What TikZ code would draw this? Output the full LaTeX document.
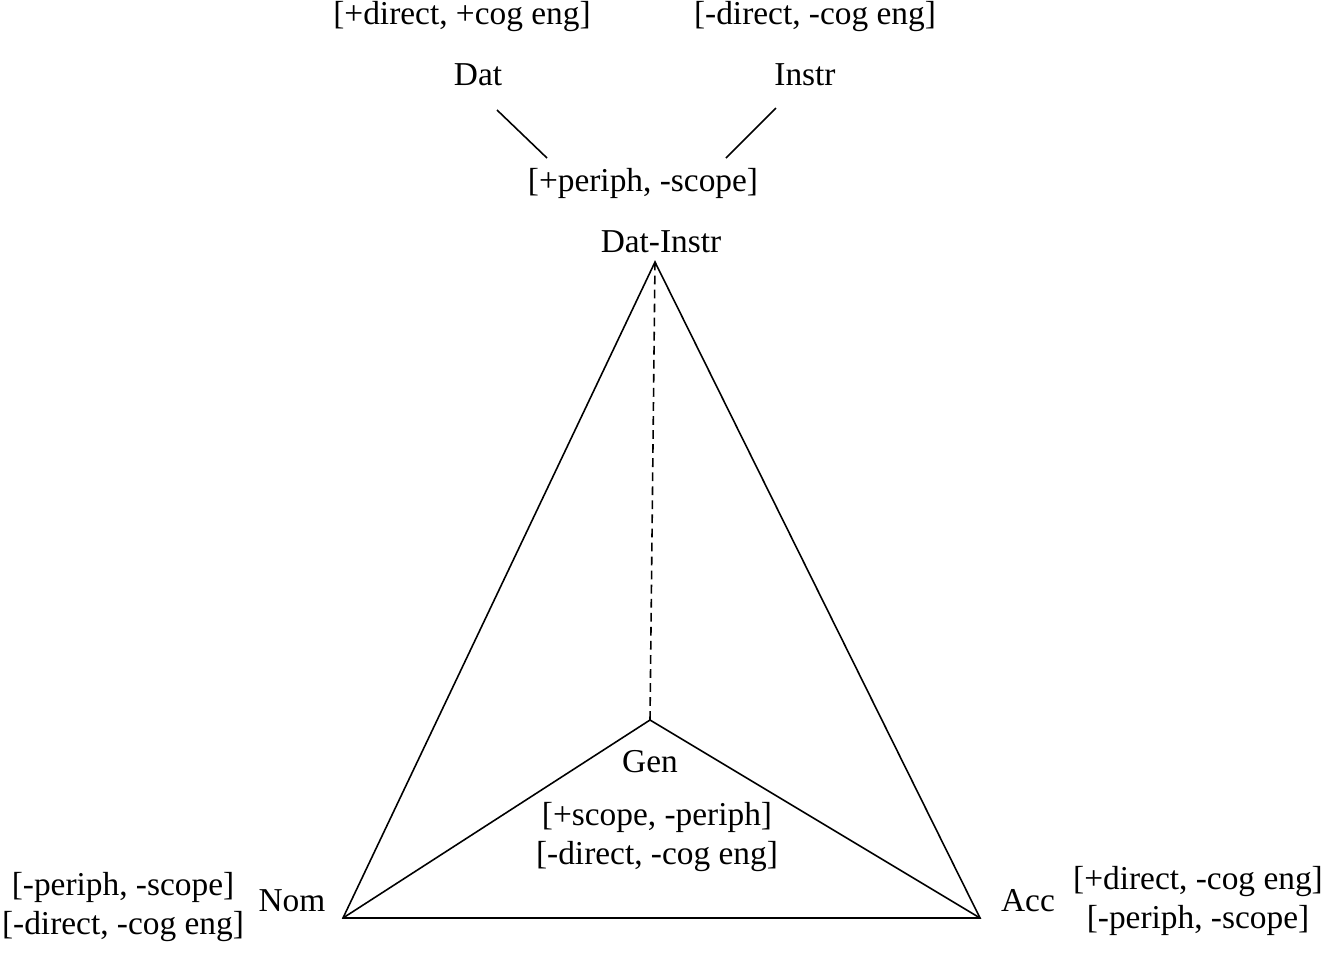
\documentclass[tikz,border=0pt]{standalone}
\usepackage{fontspec}
\setmainfont{Liberation Serif}
\begin{document}
\begin{tikzpicture}[x=0.02cm,y=-0.02cm,
  lbl/.style={inner sep=0pt,font=\fontsize{19}{22}\selectfont},
  blk/.style={lbl,align=center,font=\fontsize{19}{22.7}\selectfont},
  edge/.style={line width=0.9pt}]
\useasboundingbox (0,0) rectangle (1323,961);
\coordinate (apex) at (655,262);
\coordinate (nom) at (343,918);
\coordinate (acc) at (980,918);
\coordinate (gen) at (650,720);
\draw[edge,line join=miter] (apex) -- (nom) -- (acc) -- cycle;
\draw[edge] (nom) -- (gen) -- (acc);
\draw[edge,dashed,dash pattern=on 5pt off 3pt] (gen) -- (apex);
\node[lbl] (f1) at (462,17) {[+direct, +cog eng]};
\node[lbl] (f2) at (815,17) {[-direct, -cog eng]};
\node[lbl] (dat) at (478,75) {Dat};
\node[lbl] (instr) at (805,75) {Instr};
\coordinate (d1) at (497,110); \coordinate (d2) at (547,158);
\coordinate (i1) at (776,108); \coordinate (i2) at (726,158);
\draw[edge] (d1) -- (d2);
\draw[edge] (i1) -- (i2);
\node[lbl] (per) at (643,183) {[+periph, -scope]};
\node[lbl] (di) at (661,242) {Dat-Instr};
\node[lbl] (genl) at (650,762) {Gen};
\node[blk] (genf) at (657,837) {[+scope, -periph]\\{}[-direct, -cog eng]};
\node[lbl] (noml) at (292,901) {Nom};
\node[blk] (nomf) at (123,907) {[-periph, -scope]\\{}[-direct, -cog eng]};
\node[lbl] (accl) at (1028,901) {Acc};
\node[blk] (accf) at (1198,901) {[+direct, -cog eng]\\{}[-periph, -scope]};
\end{tikzpicture}
\end{document}
